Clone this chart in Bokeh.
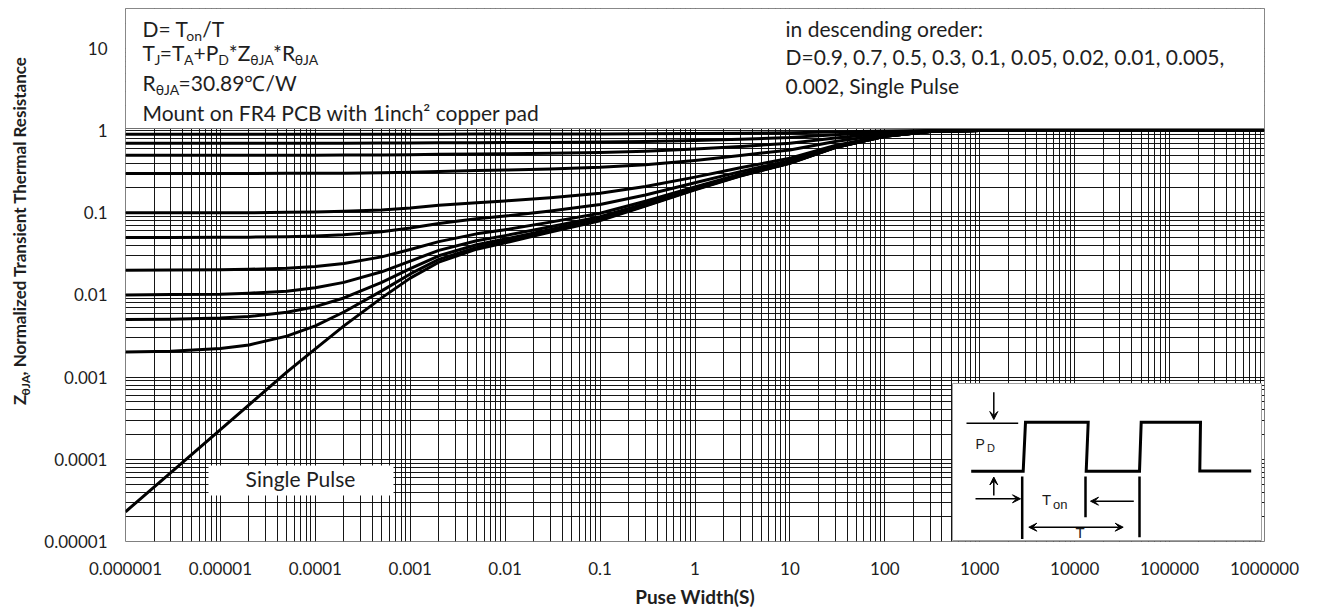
import math
from bokeh.plotting import figure
from bokeh.layouts import row
from bokeh.models import Range1d, FixedTicker, Label, Arrow, VeeHead
from bokeh.core.properties import value
from bokeh.embed import file_html
from bokeh.resources import INLINE

# ---------------- data ----------------
PULSE_WIDTH = [1e-6, 3e-6, 1e-5, 2e-5, 5e-5, 1e-4, 2e-4, 5e-4, 1e-3, 2e-3, 5e-3, 1e-2, 3e-2,
               0.1, 0.3, 1, 3, 10, 30, 100, 300, 1000]
Z_D090 = [0.9, 0.9, 0.9, 0.9, 0.9, 0.9, 0.9, 0.901, 0.902, 0.903, 0.904, 0.904, 0.906, 0.908, 0.912, 0.919, 0.928, 0.94, 0.962, 0.985, 0.997, 1.0]
Z_D070 = [0.7, 0.7, 0.7, 0.7, 0.7, 0.701, 0.701, 0.703, 0.705, 0.708, 0.711, 0.713, 0.717, 0.724, 0.736, 0.757, 0.784, 0.82, 0.886, 0.955, 0.991, 1.0]
Z_D050 = [0.5, 0.5, 0.5, 0.5, 0.501, 0.501, 0.502, 0.505, 0.508, 0.513, 0.518, 0.522, 0.529, 0.54, 0.56, 0.595, 0.64, 0.70, 0.81, 0.925, 0.985, 1.0]
Z_D030 = [0.3, 0.3, 0.3, 0.3, 0.301, 0.302, 0.303, 0.306, 0.311, 0.318, 0.325, 0.330, 0.341, 0.356, 0.384, 0.433, 0.496, 0.58, 0.734, 0.895, 0.979, 1.0]
Z_D010 = [0.1, 0.1, 0.1, 0.1, 0.101, 0.102, 0.104, 0.108, 0.114, 0.123, 0.132, 0.139, 0.152, 0.172, 0.208, 0.271, 0.352, 0.46, 0.658, 0.865, 0.973, 1.0]
Z_D005 = [0.05, 0.05, 0.0502, 0.0504, 0.0511, 0.0521, 0.054, 0.0587, 0.0652, 0.0738, 0.0842, 0.0909, 0.105, 0.126, 0.164, 0.231, 0.316, 0.43, 0.639, 0.858, 0.972, 1.0]
Z_D002 = [0.02, 0.0201, 0.0202, 0.0205, 0.0211, 0.0222, 0.0241, 0.029, 0.0357, 0.0445, 0.0553, 0.0621, 0.0768, 0.0984, 0.138, 0.206, 0.294, 0.412, 0.628, 0.853, 0.971, 1.0]
Z_D001 = [0.01, 0.0101, 0.0102, 0.0105, 0.0111, 0.0122, 0.0142, 0.0191, 0.0258, 0.0348, 0.0456, 0.0526, 0.0674, 0.0892, 0.129, 0.198, 0.287, 0.406, 0.624, 0.852, 0.970, 1.0]
Z_D0005 = [0.00502, 0.00507, 0.00523, 0.00546, 0.00614, 0.00719, 0.00918, 0.0142, 0.0209, 0.0299, 0.0408, 0.0478, 0.0627, 0.0846, 0.124, 0.194, 0.284, 0.403, 0.622, 0.851, 0.970, 1.0]
Z_D0002 = [0.00202, 0.00207, 0.00223, 0.00246, 0.00315, 0.0042, 0.00619, 0.0112, 0.018, 0.027, 0.0379, 0.0449, 0.0599, 0.0818, 0.122, 0.192, 0.281, 0.401, 0.621, 0.850, 0.970, 1.0]

SINGLE_T = [1e-6, 3e-6, 1e-5, 2e-5, 5e-5, 1e-4, 2e-4, 5e-4, 1e-3, 2e-3, 5e-3, 1e-2, 3e-2,
            0.1, 0.3, 1, 3, 10, 30, 100, 300, 1000, 1e6]
Z_SINGLE = [2.3e-5, 6.9e-5, 2.3e-4, 4.6e-4, 1.15e-3, 2.2e-3, 4.2e-3, 9.2e-3, 0.016, 0.025, 0.036, 0.043, 0.058,
            0.080, 0.12, 0.19, 0.28, 0.40, 0.62, 0.85, 0.97, 1.0, 1.0]

DUTY_SERIES = [Z_D090, Z_D070, Z_D050, Z_D030, Z_D010, Z_D005, Z_D002, Z_D001, Z_D0005, Z_D0002]

X_TICKS = [1e-6, 1e-5, 1e-4, 1e-3, 1e-2, 1e-1, 1, 10, 100, 1000, 1e4, 1e5, 1e6]
X_TICK_LABELS = ["0.000001", "0.00001", "0.0001", "0.001", "0.01", "0.1", "1",
                 "10", "100", "1000", "10000", "100000", "1000000"]
Y_TICKS = [1e-5, 1e-4, 1e-3, 1e-2, 1e-1, 1, 10]
Y_TICK_LABELS = ["0.00001", "0.0001", "0.001", "0.01", "0.1", "1", "10"]

# ---------------- layout ----------------
W, H = 1319, 613
LEFT_PANEL = 40
L, R, T, B = 125, 1264, 8, 541          # frame edges in page pixels
XMIN, XMAX = 1e-6, 1e6
YMIN = 1e-5
PX_PER_DEC_Y = (B - 130) / 5.0
YMAX = 10 ** ((130 - T) / PX_PER_DEC_Y)


def xd(px):
    lo, hi = math.log10(XMIN), math.log10(XMAX)
    return 10 ** (lo + (px - L) / (R - L) * (hi - lo))


def yd(py):
    lo, hi = math.log10(YMIN), math.log10(YMAX)
    return 10 ** (lo + (B - py) / (B - T) * (hi - lo))


def fix(size):
    # bokeh renders the alphabetic baseline a bit lower; compensate
    return 0.47 * size


LATO_W = {' ': .193, '=': .58, '+': .58, '*': .40, '/': .37, ',': .2, '.': .2,
          'D': .745, 'T': .57, 'R': .63, 'Z': .62, 'P': .60, 'J': .385, 'A': .68,
          'θ': .57, 'o': .566, 'n': .566}


def tw(s, size, bold=False):
    return sum(LATO_W.get(c, .55) for c in s) * size * (1.03 if bold else 1.0)


TEXT_COLOR = "#1e1e1e"
FONT = "Lato"

fig = figure(width=W - LEFT_PANEL, height=H, x_axis_type="log", y_axis_type="log",
             x_range=Range1d(XMIN, XMAX), y_range=Range1d(YMIN, YMAX),
             output_backend="svg", toolbar_location=None,
             min_border_left=L - LEFT_PANEL, min_border_right=W - R,
             min_border_top=T, min_border_bottom=H - B)
fig.background_fill_color = "white"
fig.border_fill_color = "white"
fig.outline_line_color = "#808080"
fig.outline_line_width = 1

# grid: every 1..9 x decade
fig.xgrid.ticker = FixedTicker(ticks=[m * 10.0 ** k for k in range(-6, 6) for m in range(1, 10)] + [1e6])
fig.ygrid.ticker = FixedTicker(ticks=[m * 10.0 ** k for k in range(-5, 2) for m in range(1, 10)])
for g in (fig.xgrid, fig.ygrid):
    g.grid_line_color = "#0a0a0a"
    g.grid_line_width = 1
    g.grid_line_alpha = 0.95

# axes
fig.xaxis.ticker = FixedTicker(ticks=X_TICKS)
fig.yaxis.ticker = FixedTicker(ticks=Y_TICKS)
xo = {}
for v, s in zip(X_TICKS, X_TICK_LABELS):
    xo[v] = s
    xo[s] = s
yo = {}
for v, s in zip(Y_TICKS, Y_TICK_LABELS):
    yo[v] = s
    yo[s] = s
fig.xaxis.major_label_overrides = xo
fig.yaxis.major_label_overrides = yo
for ax in (fig.xaxis, fig.yaxis):
    ax.axis_line_color = None
    ax.major_tick_line_color = None
    ax.minor_tick_line_color = None
    ax.major_tick_in = 0
    ax.major_tick_out = 0
    ax.minor_tick_in = 0
    ax.minor_tick_out = 0
    ax.major_label_text_font = FONT
    ax.major_label_text_font_size = "17px"
    ax.major_label_text_color = TEXT_COLOR
fig.xaxis.major_label_standoff = 20
fig.yaxis.major_label_standoff = 18
fig.yaxis.axis_label = None
fig.xaxis.axis_label = "Puse Width(S)"
fig.xaxis.axis_label_text_font = FONT
fig.xaxis.axis_label_text_font_style = "bold"
fig.xaxis.axis_label_text_font_size = "19px"
fig.xaxis.axis_label_text_color = TEXT_COLOR
fig.xaxis.axis_label_standoff = 7

# white boxes (text box on top, label box, inset)
fig.quad(left=[XMIN], right=[XMAX], bottom=[yd(128)], top=[YMAX],
         fill_color="white", line_color="#707070", line_width=1)
fig.quad(left=[xd(208)], right=[xd(393)], bottom=[yd(495)], top=[yd(465)],
         fill_color="white", line_color=None)
fig.quad(left=[xd(952)], right=[xd(1261)], bottom=[yd(540)], top=[yd(383)],
         fill_color="white", line_color="#a0a0a0", line_width=1)

# curves
for z in DUTY_SERIES:
    fig.line(PULSE_WIDTH, z, line_color="black", line_width=3, line_join="round")
fig.line(SINGLE_T, Z_SINGLE, line_color="black", line_width=3, line_join="round")


# ---------------- text annotations ----------------
def runs(x0, y0, parts, color=TEXT_COLOR, font=FONT):
    pos = x0
    for text, size, dy, bold in parts:
        fig.add_layout(Label(x=xd(pos), y=yd(y0 + dy - fix(size)), text=text, text_font=font,
                             text_font_size=f"{size}px", text_color=color,
                             text_align="left", text_baseline="alphabetic",
                             text_font_style="bold" if bold else "normal"))
        pos += tw(text, size, bold)


BIG, SUB = 21, 14
runs(142, 38, [("D= T", BIG, 0, False), ("on", SUB, 4, False), ("/T", BIG, 0, False)])
runs(142, 62, [("T", BIG, 0, False), ("J", SUB, 4, False), ("=T", BIG, 0, False),
               ("A", SUB, 4, False), ("+P", BIG, 0, False), ("D", SUB, 4, False),
               ("*Z", BIG, 0, False), ("θJA", SUB, 4, False), ("*R", BIG, 0, False),
               ("θJA", SUB, 4, False)])
runs(142, 92, [("R", BIG, 0, False), ("θJA", SUB, 4, False), ("=30.89℃/W", BIG, 0, False)])
runs(142, 122, [("Mount on FR4 PCB with 1inch² copper pad", BIG, 0, False)])

for txt, by in (("in descending oreder:", 38),
                ("D=0.9, 0.7, 0.5, 0.3, 0.1, 0.05, 0.02, 0.01, 0.005,", 66),
                ("0.002, Single Pulse", 95)):
    runs(785, by, [(txt, BIG, 0, False)])

fig.add_layout(Label(x=xd(300), y=yd(488 - fix(BIG)), text="Single Pulse", text_font=FONT,
                     text_font_size=f"{BIG}px", text_color=TEXT_COLOR,
                     text_align="center", text_baseline="alphabetic"))

# ---------------- inset pulse diagram ----------------
wave_px = [(970.7, 470.7), (1022.7, 470.7), (1025, 421.7), (1087.7, 421.7), (1085.7, 470.7),
           (1139, 470.7), (1140.7, 421.7), (1200, 421.7), (1199.3, 470.5), (1250.7, 470.5)]
fig.line([xd(a) for a, b in wave_px], [yd(b) for a, b in wave_px],
         line_color="black", line_width=3, line_join="miter")
for (x0, y0, x1, y1, w) in [(966, 422.7, 1017.7, 422.7, 1.5),
                            (1021.7, 476, 1021.7, 538.5, 2.5),
                            (1085, 476, 1085, 516.7, 2.5),
                            (1139, 476, 1139, 536.7, 2.5)]:
    fig.line([xd(x0), xd(x1)], [yd(y0), yd(y1)], line_color="black", line_width=w)

for (x0, y0, x1, y1, both) in [(993.3, 391.7, 993.3, 419, False),
                               (993.3, 495, 993.3, 476.5, False),
                               (975, 498.3, 1020, 498.3, False),
                               (1133.3, 500.7, 1090, 500.7, False),
                               (1028.3, 526.7, 1122.7, 526.7, True)]:
    fig.add_layout(Arrow(x_start=xd(x0), y_start=yd(y0), x_end=xd(x1), y_end=yd(y1),
                         line_color="black", line_width=1.5,
                         end=VeeHead(size=8, fill_color="black", line_color="black"),
                         start=VeeHead(size=8, fill_color="black", line_color="black") if both else None))

INSET_FONT = value("Liberation Sans")
for (tx, ty, s, size) in [(975, 450, "P", 14), (986.5, 453, "D", 11), (1041.5, 506, "T", 15),
                          (1052.5, 510, "on", 13), (1075, 539, "T", 15)]:
    fig.text(x=[xd(tx)], y=[yd(ty - fix(size))], text=[s], text_font=INSET_FONT,
             text_font_size=f"{size}px", text_color="#1a1a1a", text_baseline="alphabetic")

# ---------------- left panel: rotated y-axis title with subscript ----------------
side = figure(width=LEFT_PANEL, height=H, x_range=Range1d(0, LEFT_PANEL), y_range=Range1d(0, H),
              output_backend="svg", toolbar_location=None, min_border=0)
side.axis.visible = False
side.grid.visible = False
side.outline_line_color = None
side.background_fill_color = "white"
side.border_fill_color = "white"

pos = 456.0
for text, size, drop, adv in [("Z", 17, 0, 11.0), ("θJA", 12, 3.5, 23.0),
                              (", Normalized Transient Thermal Resistance", 17, 0, 0.0)]:
    side.text(x=[27 + drop - fix(size)], y=[H - pos], text=[text], angle=math.pi / 2,
              text_font=value(FONT), text_font_style="bold", text_font_size=f"{size}px",
              text_color=TEXT_COLOR, text_align="left", text_baseline="alphabetic")
    pos -= adv

p = row(side, fig)
open("out.html", "w").write(file_html(p, INLINE))
